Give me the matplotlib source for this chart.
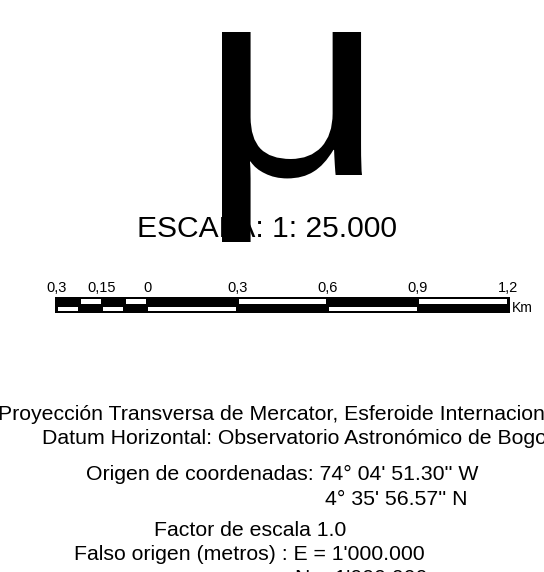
import matplotlib.pyplot as plt
from matplotlib.patches import Rectangle, PathPatch
from matplotlib.textpath import TextPath
from matplotlib.font_manager import FontProperties
from matplotlib.path import Path

plt.rcParams['font.family'] = ['Liberation Sans', 'DejaVu Sans']

# Scale bar data (km)
segment_edges = [-0.3, -0.225, -0.15, -0.075, 0.0, 0.3, 0.6, 0.9, 1.2]
segment_rows = ["bottom", "top", "bottom", "top", "bottom", "top", "bottom", "top"]
tick_values = [-0.3, -0.15, 0.0, 0.3, 0.6, 0.9, 1.2]
tick_labels = ["0,3", "0,15", "0", "0,3", "0,6", "0,9", "1,2"]

scale_title = "ESCALA: 1: 25.000"
unit_label = "Km"

# Projection notes: (text, left x px, baseline y px)
notes = [
    ("Proyección Transversa de Mercator, Esferoide Internacional", -1.5, 420),
    ("Datum Horizontal: Observatorio Astronómico de Bogotá", 41.5, 444),
    ("Origen de coordenadas: 74° 04' 51.30'' W", 86, 480),
    ("4° 35' 56.57'' N", 325, 505),
    ("Factor de escala 1.0", 154, 536),
    ("Falso origen (metros) : E = 1'000.000", 74, 560),
    ("N = 1'000.000", 295, 584),
]

W, H = 544, 572
fig = plt.figure(figsize=(W / 100, H / 100), dpi=100)

# Background axes in pixel coordinates for the text
ax = fig.add_axes([0, 0, 1, 1])
ax.set_xlim(0, W)
ax.set_ylim(H, 0)
ax.axis("off")

ax.text(267, 237, scale_title, fontsize=21.6, ha="center", va="baseline", color="black")

# North arrow glyph "μ", fitted to its box (baseline kept at mu_base)
mu_left, mu_right = 222, 362
mu_top, mu_base, mu_bot = 32, 175, 242
tp = TextPath((0, 0), "μ", size=100, prop=FontProperties(family="Liberation Sans"))
ext = tp.get_extents()
verts = tp.vertices.copy()
vx = mu_left + (verts[:, 0] - ext.x0) / ext.width * (mu_right - mu_left)
vy = [mu_base - y / ext.y1 * (mu_base - mu_top) if y >= 0
      else mu_base + y / ext.y0 * (mu_bot - mu_base) for y in verts[:, 1]]
verts[:, 0] = vx
verts[:, 1] = vy
ax.add_patch(PathPatch(Path(verts, tp.codes), transform=ax.transData,
                       facecolor="black", edgecolor="none", zorder=5))

for txt, x, y in notes:
    ax.text(x, y, txt, fontsize=15.3, ha="left", va="baseline", color="black")

# Scale bar axes: x in km
px_per_km = 451 / 1.5
left_px = 57 - 2
right_px = 508 + 2
bar_top, bar_bot = 297, 313
sax = fig.add_axes([left_px / W, (H - bar_bot) / H, (right_px - left_px) / W, (bar_bot - bar_top) / H])
pad = 2 / px_per_km
sax.set_xlim(-0.3 - pad, 1.2 + pad)
sax.set_ylim(0, 16)
for s in sax.spines.values():
    s.set_visible(False)
sax.set_yticks([])

sax.add_patch(Rectangle((-0.3 - pad, 0), 1.5 + 2 * pad, 16, facecolor="black", edgecolor="none"))
inset = 1.2 / px_per_km
for i, row in enumerate(segment_rows):
    x0 = segment_edges[i] + inset
    x1 = segment_edges[i + 1] - inset
    y0, y1 = (2, 6.3) if row == "bottom" else (9, 13.7)
    sax.add_patch(Rectangle((x0, y0), x1 - x0, y1 - y0, facecolor="white", edgecolor="none"))

sax.xaxis.set_ticks_position("top")
sax.set_xticks(tick_values)
sax.set_xticklabels(tick_labels, fontsize=10.5)
sax.tick_params(axis="x", length=0, pad=1.5)

ax.text(512, 312, unit_label, fontsize=10, ha="left", va="baseline", color="black")

fig.savefig("out.png", dpi=100)
